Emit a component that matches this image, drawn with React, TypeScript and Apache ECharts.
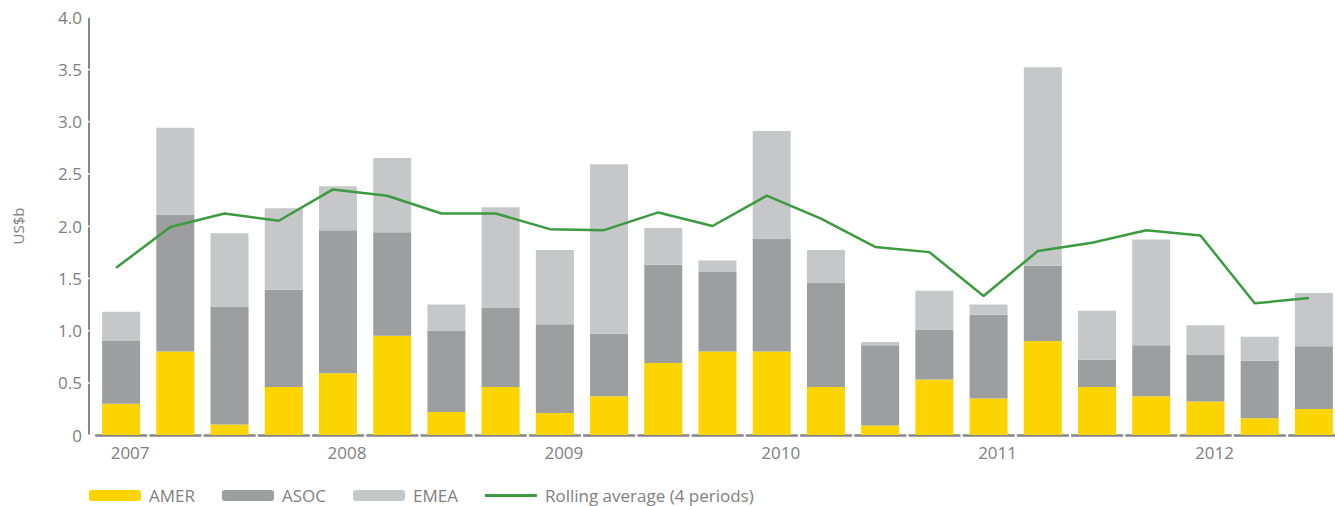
import React, { useEffect, useRef } from "react";
import * as echarts from "echarts";

const categories = [
  "2007 Q1", "2007 Q2", "2007 Q3", "2007 Q4",
  "2008 Q1", "2008 Q2", "2008 Q3", "2008 Q4",
  "2009 Q1", "2009 Q2", "2009 Q3", "2009 Q4",
  "2010 Q1", "2010 Q2", "2010 Q3", "2010 Q4",
  "2011 Q1", "2011 Q2", "2011 Q3", "2011 Q4",
  "2012 Q1", "2012 Q2", "2012 Q3",
];
const amer = [0.30, 0.80, 0.10, 0.46, 0.59, 0.95, 0.22, 0.46, 0.21, 0.37, 0.69, 0.80, 0.80, 0.46, 0.09, 0.53, 0.35, 0.90, 0.46, 0.37, 0.32, 0.16, 0.25];
const asoc = [0.60, 1.31, 1.13, 0.93, 1.37, 0.99, 0.78, 0.76, 0.85, 0.60, 0.94, 0.76, 1.08, 1.00, 0.77, 0.48, 0.80, 0.72, 0.26, 0.49, 0.45, 0.55, 0.60];
const emea = [0.28, 0.83, 0.70, 0.78, 0.42, 0.71, 0.25, 0.96, 0.71, 1.62, 0.35, 0.11, 1.03, 0.31, 0.03, 0.37, 0.10, 1.90, 0.47, 1.01, 0.28, 0.23, 0.51];
const rolling = [1.60, 1.99, 2.12, 2.05, 2.35, 2.29, 2.12, 2.12, 1.97, 1.96, 2.13, 2.00, 2.29, 2.07, 1.80, 1.75, 1.33, 1.76, 1.84, 1.96, 1.91, 1.26, 1.31];
const yTicks = { min: 0, max: 4, interval: 0.5 };

const FONT = "'Open Sans', sans-serif";
const TEXT = "#808080";
const AXIS = "#858585";
const GREEN = "#3C9A3F";

export default function App() {
  const ref = useRef<HTMLDivElement>(null);
  useEffect(() => {
    if (!ref.current) return;
    const chart = echarts.init(ref.current, null, { renderer: "svg" });
    const period = 54.22;
    chart.setOption({
      animation: false,
      textStyle: { fontFamily: FONT },
      grid: [
        { left: 94, right: 4, top: 17, bottom: 71 },
        { left: 89, right: 9, top: 17, bottom: 71 },
      ],
      legend: {
        left: 84,
        top: 482,
        itemWidth: 52,
        itemHeight: 11,
        itemGap: 27,
        textStyle: { fontFamily: FONT, fontSize: 17, color: TEXT, padding: [0, 0, 0, 3] },
        data: [
          "AMER",
          "ASOC",
          "EMEA",
          {
            name: "Rolling average (4 periods)",
            icon: "path://M0,0H52V3H0Z",
            itemStyle: { color: GREEN, borderWidth: 0 },
            lineStyle: { width: 0 },
          },
        ],
      },
      xAxis: [
        {
          type: "category",
          data: categories,
          gridIndex: 0,
          axisTick: { show: false },
          axisLine: {
            lineStyle: { color: AXIS, width: 2.5, type: [period - 4.22, 4.22], dashOffset: period - 2.11 },
          },
          axisLabel: {
            interval: 0,
            margin: 9,
            fontFamily: FONT,
            fontSize: 17,
            color: TEXT,
            padding: [0, 0, 0, 18],
            formatter: (v: string) => (v.endsWith("Q1") ? v.slice(0, 4) : ""),
          },
        },
        {
          type: "category",
          data: categories,
          gridIndex: 1,
          show: false,
        },
      ],
      yAxis: [
        {
          type: "value",
          gridIndex: 0,
          min: yTicks.min,
          max: yTicks.max,
          interval: yTicks.interval,
          offset: 5,
          name: "US$b",
          nameLocation: "middle",
          nameGap: 64,
          nameTextStyle: { fontFamily: FONT, fontSize: 15, color: TEXT },
          splitLine: { show: false },
          axisTick: { show: false },
          axisLine: {
            show: true,
            lineStyle: { color: AXIS, width: 2, type: [49.25, 3], dashOffset: 50.75 },
          },
          axisLabel: {
            margin: 7,
            fontFamily: FONT,
            fontSize: 17,
            color: TEXT,
            formatter: (v: number) => (v === 0 ? "0" : v.toFixed(1)),
          },
        },
        {
          type: "value",
          gridIndex: 1,
          min: yTicks.min,
          max: yTicks.max,
          interval: yTicks.interval,
          show: false,
        },
      ],
      series: [
        { name: "AMER", type: "bar", stack: "t", barWidth: 38, data: amer, itemStyle: { color: "#FCD500" }, xAxisIndex: 0, yAxisIndex: 0 },
        { name: "ASOC", type: "bar", stack: "t", barWidth: 38, data: asoc, itemStyle: { color: "#9D9EA0" }, xAxisIndex: 0, yAxisIndex: 0 },
        { name: "EMEA", type: "bar", stack: "t", barWidth: 38, data: emea, itemStyle: { color: "#C6C7C9" }, xAxisIndex: 0, yAxisIndex: 0 },
        {
          name: "Rolling average (4 periods)",
          type: "line",
          data: rolling,
          xAxisIndex: 1,
          yAxisIndex: 1,
          symbol: "none",
          showSymbol: false,
          lineStyle: { color: GREEN, width: 2.5 },
          itemStyle: { color: GREEN },
          z: 5,
        },
      ],
    });
    return () => chart.dispose();
  }, []);
  return (
    <div style={{ position: "fixed", left: 0, top: 0, width: 1335, height: 506, overflow: "hidden", background: "#fff" }}>
      <div ref={ref} style={{ width: 1345, height: 506 }} />
    </div>
  );
}
